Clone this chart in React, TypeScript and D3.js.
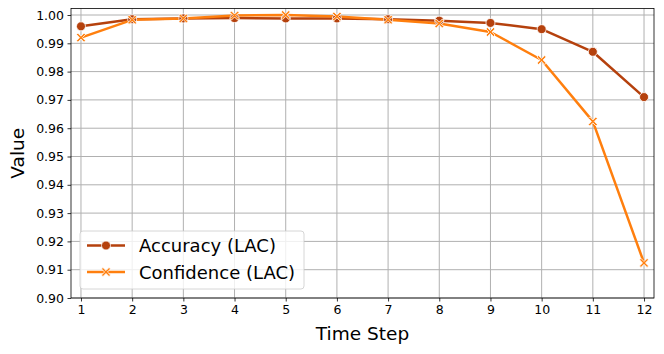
import React, { useEffect, useRef } from "react";
import * as d3 from "d3";

const steps = [1, 2, 3, 4, 5, 6, 7, 8, 9, 10, 11, 12];
const accuracy = [0.996, 0.9985, 0.9988, 0.9989, 0.9988, 0.9988, 0.9985, 0.998, 0.9972, 0.995, 0.987, 0.971];
const confidence = [0.992, 0.9983, 0.9988, 0.9998, 1.0, 0.9995, 0.9983, 0.997, 0.994, 0.9841, 0.9624, 0.9124];
const yTicks = [0.9, 0.91, 0.92, 0.93, 0.94, 0.95, 0.96, 0.97, 0.98, 0.99, 1.0];
const seriesNames = ["Accuracy (LAC)", "Confidence (LAC)"];
const colors = ["#b5410d", "#ff7f0e"];

const W = 664;
const H = 354;
const m = { top: 8.5, right: 10, bottom: 56, left: 71 };

const App = () => {
  const svgRef = useRef<SVGSVGElement>(null);

  useEffect(() => {
    const svg = d3.select(svgRef.current);
    svg.selectAll("*").remove();
    const font = "DejaVu Sans";

    const x = d3.scaleLinear().domain([0.805, 12.195]).range([m.left, W - m.right]);
    const y = d3.scaleLinear().domain([0.9, 1.0023]).range([H - m.bottom, m.top]);

    // grid
    const grid = svg.append("g");
    grid.selectAll(".gx").data(steps).join("line")
      .attr("x1", d => x(d)).attr("x2", d => x(d))
      .attr("y1", m.top).attr("y2", H - m.bottom)
      .attr("stroke", "#b0b0b0").attr("stroke-width", 1);
    grid.selectAll(".gy").data(yTicks).join("line")
      .attr("y1", d => y(d)).attr("y2", d => y(d))
      .attr("x1", m.left).attr("x2", W - m.right)
      .attr("stroke", "#b0b0b0").attr("stroke-width", 1);

    // axes
    const xAxis = d3.axisBottom(x).tickValues(steps).tickSize(3.5).tickPadding(3.5).tickFormat(d => String(d));
    const yAxis = d3.axisLeft(y).tickValues(yTicks).tickSize(3.5).tickPadding(3.5).tickFormat(d3.format(".2f"));
    const gx = svg.append("g").attr("transform", `translate(0,${H - m.bottom})`).call(xAxis);
    const gy = svg.append("g").attr("transform", `translate(${m.left},0)`).call(yAxis);
    [gx, gy].forEach(g => {
      g.select(".domain").remove();
      g.selectAll("text").attr("font-family", font).attr("font-size", 12.5).attr("fill", "#000");
      g.selectAll("line").attr("stroke", "#000").attr("stroke-width", 0.8);
    });

    // frame
    svg.append("rect")
      .attr("x", m.left).attr("y", m.top)
      .attr("width", W - m.right - m.left).attr("height", H - m.bottom - m.top)
      .attr("fill", "none").attr("stroke", "#000").attr("stroke-width", 0.8);

    const line = d3.line<number>().x((d, i) => x(steps[i])).y(d => y(d));
    const crossPath = (s: number) => {
      const a = s * 0.32;
      const b = s;
      return `M${-b},${-b + a}L${-b + a},${-b}L0,${-a}L${b - a},${-b}L${b},${-b + a}L${a},0L${b},${b - a}L${b - a},${b}L0,${a}L${-b + a},${b}L${-b},${b - a}L${-a},0Z`;
    };

    const data = [accuracy, confidence];
    data.forEach((vals, si) => {
      svg.append("path").datum(vals).attr("d", line)
        .attr("fill", "none").attr("stroke", colors[si]).attr("stroke-width", 2.5)
        .attr("stroke-linejoin", "round");
    });
    data.forEach((vals, si) => {
      const g = svg.append("g");
      if (si === 0) {
        g.selectAll("circle").data(vals).join("circle")
          .attr("cx", (d, i) => x(steps[i])).attr("cy", d => y(d)).attr("r", 4.5)
          .attr("fill", colors[si]).attr("stroke", "#fff").attr("stroke-width", 0.8);
      } else {
        g.selectAll("path").data(vals).join("path")
          .attr("transform", (d, i) => `translate(${x(steps[i])},${y(d)})`)
          .attr("d", crossPath(4.5))
          .attr("fill", colors[si]).attr("stroke", "#fff").attr("stroke-width", 0.8);
      }
    });

    // labels
    svg.append("text").attr("x", (m.left + W - m.right) / 2).attr("y", 340)
      .attr("text-anchor", "middle").attr("font-family", font).attr("font-size", 18.5).text("Time Step");
    svg.append("text").attr("transform", `translate(24,${(m.top + H - m.bottom) / 2}) rotate(-90)`)
      .attr("text-anchor", "middle").attr("font-family", font).attr("font-size", 18.5).text("Value");

    // legend
    const lg = svg.append("g").attr("transform", "translate(80,231)");
    lg.append("rect").attr("width", 224).attr("height", 58).attr("rx", 3)
      .attr("fill", "#fff").attr("fill-opacity", 0.8).attr("stroke", "#ccc").attr("stroke-width", 0.8);
    seriesNames.forEach((name, i) => {
      const cy = 14.5 + i * 26.5;
      lg.append("line").attr("x1", 7).attr("x2", 45).attr("y1", cy).attr("y2", cy)
        .attr("stroke", colors[i]).attr("stroke-width", 2.5);
      if (i === 0) {
        lg.append("circle").attr("cx", 26).attr("cy", cy).attr("r", 4.5)
          .attr("fill", colors[i]).attr("stroke", "#fff").attr("stroke-width", 0.8);
      } else {
        lg.append("path").attr("transform", `translate(26,${cy})`).attr("d", crossPath(4.5))
          .attr("fill", colors[i]).attr("stroke", "#fff").attr("stroke-width", 0.8);
      }
      lg.append("text").attr("x", 59).attr("y", cy + 6.5).attr("font-family", font).attr("font-size", 18).text(name);
    });
  }, []);

  return (
    <div style={{ margin: -8 }}>
      <svg ref={svgRef} width={W} height={H} style={{ display: "block", background: "#fff" }} />
    </div>
  );
};

export default App;
